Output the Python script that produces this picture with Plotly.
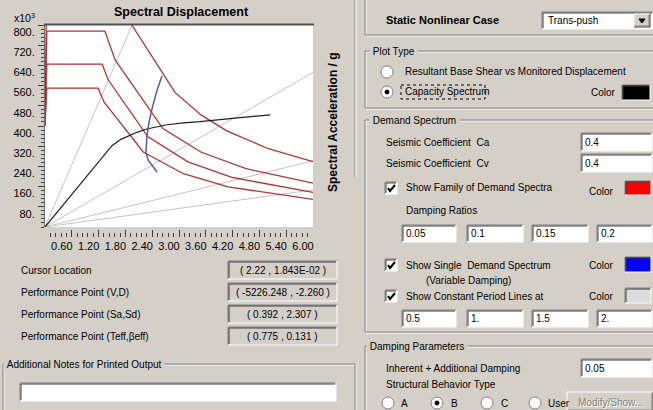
import plotly.graph_objects as go

W, H = 653, 410

# ---------------- data ----------------
# demand spectra (family), x = spectral displacement, y = spectral acceleration (x10^3)
sd_d05 = [0.0, 0.04, 1.55, 1.93, 2.91, 3.50, 4.07, 5.00, 6.00]
sa_d05 = [400, 1000, 1000, 804, 533, 443, 381, 310, 259]
sd_d10 = [0.0, 0.04, 1.34, 1.57, 2.64, 3.50, 4.50, 6.00]
sa_d10 = [400, 776, 776, 662, 390, 296, 231, 174]
sd_d15 = [0.0, 0.04, 1.28, 1.41, 2.30, 3.20, 4.20, 6.00]
sa_d15 = [400, 645, 645, 584, 358, 258, 196, 137]
sd_d20 = [0.0, 0.04, 1.19, 1.32, 2.20, 3.10, 4.10, 6.00]
sa_d20 = [400, 550, 550, 495, 297, 211, 159, 109]

# constant period lines T = 0.5, 1.0, 1.5, 2.0
per_sd = [[0.0, 1.95], [0.0, 6.0], [0.0, 6.0], [0.0, 6.0]]
per_sa = [[0, 800], [0, 612], [0, 262], [0, 147]]

# capacity spectrum
cap_sd = [0.0, 1.50, 1.70, 1.86, 2.06, 2.28, 2.50, 2.73, 3.10, 3.47, 4.20, 5.04]
cap_sa = [0, 322, 347, 360, 375, 388, 397, 405, 412, 417, 430, 444]

# single demand spectrum (variable damping)
var_sd = [2.62, 2.51, 2.40, 2.33, 2.28, 2.26, 2.31, 2.40, 2.51]
var_sa = [598, 543, 471, 416, 356, 293, 265, 242, 218]

x_tickvals = [0.6, 1.2, 1.8, 2.4, 3.0, 3.6, 4.2, 4.8, 5.4, 6.0]
x_ticktext = ["0.60", "1.20", "1.80", "2.40", "3.00", "3.60", "4.20", "4.80", "5.40", "6.00"]
y_tickvals = [80, 160, 240, 320, 400, 480, 560, 640, 720, 800]
y_ticktext = ["80.", "160.", "240.", "320.", "400.", "480.", "560.", "640.", "720.", "800."]

# ---------------- helpers ----------------
BG = "#d4d0c8"
FONT = "Liberation Sans"
shapes = []
annots = []


def PX(x):
    return x / W


def PY(y):
    return 1 - y / H


def text(x, y, s, size=10, color="#000000", bold=False, anchor="left", bg=None, angle=0):
    t = "<b>%s</b>" % s if bold else s
    a = dict(x=PX(x), y=PY(y), xref="paper", yref="paper", text=t, showarrow=False,
             xanchor=anchor, yanchor="middle", textangle=angle, borderpad=0,
             font=dict(family=FONT, size=size, color=color))
    if bg:
        a["bgcolor"] = bg
    annots.append(a)


def line(x0, y0, x1, y1, color, w=1, dash=None):
    ln = dict(color=color, width=w)
    if dash:
        ln["dash"] = dash
    shapes.append(dict(type="line", xref="paper", yref="paper", x0=PX(x0), y0=PY(y0),
                       x1=PX(x1), y1=PY(y1), line=ln, layer="above"))


def rect(x0, y0, x1, y1, fill=None, color=None, w=1, dash=None, layer="above"):
    ln = dict(width=w if color else 0, color=color or "rgba(0,0,0,0)")
    if dash:
        ln["dash"] = dash
    d = dict(type="rect", xref="paper", yref="paper", x0=PX(x0), y0=PY(y0), x1=PX(x1),
             y1=PY(y1), line=ln, layer=layer)
    if fill:
        d["fillcolor"] = fill
    shapes.append(d)


def etched(x0, y0, x1, y1):
    rect(x0 + 1, y0 + 1, x1 + 1, y1 + 1, color="#ffffff")
    rect(x0, y0, x1, y1, color="#808080")


def group(x0, y0, x1, y1, label, lx):
    etched(x0, y0, x1, y1)
    text(lx, y0, "&nbsp;" + label + "&nbsp;", bg=BG)


def sunken(x0, y0, x1, y1, fill="#ffffff"):
    rect(x0, y0, x1, y1, fill=fill)
    line(x0, y0, x1, y0, "#808080")
    line(x0, y0, x0, y1, "#808080")
    line(x0 + 1, y0 + 1, x1 - 1, y0 + 1, "#404040")
    line(x0 + 1, y0 + 1, x0 + 1, y1 - 1, "#404040")
    line(x0, y1, x1, y1, "#ffffff")
    line(x1, y0, x1, y1, "#ffffff")


def raised(x0, y0, x1, y1):
    rect(x0, y0, x1, y1, fill=BG)
    line(x0, y0, x1, y0, "#ffffff")
    line(x0, y0, x0, y1, "#ffffff")
    line(x0, y1, x1, y1, "#404040")
    line(x1, y0, x1, y1, "#404040")
    line(x0 + 1, y1 - 1, x1 - 1, y1 - 1, "#808080")
    line(x1 - 1, y0 + 1, x1 - 1, y1 - 1, "#808080")


def textbox(x0, y0, x1, y1, s, fill="#ffffff", center=False):
    sunken(x0, y0, x1, y1, fill)
    if center:
        text((x0 + x1) / 2, (y0 + y1) / 2, s, anchor="center")
    else:
        text(x0 + 3, (y0 + y1) / 2, s)


def radio(cx, cy, checked=False):
    r = 6
    shapes.append(dict(type="circle", xref="paper", yref="paper", x0=PX(cx - r), y0=PY(cy + r),
                       x1=PX(cx + r), y1=PY(cy - r), fillcolor="#ffffff",
                       line=dict(color="#808080", width=1), layer="above"))
    if checked:
        shapes.append(dict(type="circle", xref="paper", yref="paper", x0=PX(cx - 2), y0=PY(cy + 2),
                           x1=PX(cx + 2), y1=PY(cy - 2), fillcolor="#000000",
                           line=dict(color="#000000", width=1), layer="above"))


def checkbox(x0, y0, checked=True):
    sunken(x0, y0, x0 + 12, y0 + 12)
    if checked:
        p = "M %f %f L %f %f L %f %f" % (PX(x0 + 3), PY(y0 + 6), PX(x0 + 5), PY(y0 + 9),
                                           PX(x0 + 10), PY(y0 + 3))
        shapes.append(dict(type="path", xref="paper", yref="paper", path=p,
                           line=dict(color="#000000", width=2), layer="above"))


def swatch(x0, y0, x1, y1, fill):
    sunken(x0, y0, x1, y1, fill)


# ---------------- figure ----------------
fig = go.Figure()

for xs, ys in zip(per_sd, per_sa):
    fig.add_trace(go.Scatter(x=xs, y=ys, mode="lines", line=dict(color="#c4c4c4", width=1),
                             hoverinfo="skip", showlegend=False))
for xs, ys in [(sd_d05, sa_d05), (sd_d10, sa_d10), (sd_d15, sa_d15), (sd_d20, sa_d20)]:
    fig.add_trace(go.Scatter(x=xs, y=ys, mode="lines", line=dict(color="#b03434", width=1.3),
                             hoverinfo="skip", showlegend=False))
fig.add_trace(go.Scatter(x=cap_sd, y=cap_sa, mode="lines", line=dict(color="#1e1e1e", width=1.2),
                         hoverinfo="skip", showlegend=False))
fig.add_trace(go.Scatter(x=var_sd, y=var_sa, mode="lines", line=dict(color="#5858a8", width=1.5),
                         hoverinfo="skip", showlegend=False))

# ---- left panel decorations ----
text(181, 12, "Spectral Displacement", size=12.5, bold=True, anchor="center")
text(13, 17, "x10<sup>3</sup>", size=10.5)
line(44, 24.5, 314, 24.5, "#505050", w=2)
text(333, 122, "Spectral Acceleration / g", size=12, bold=True, anchor="center", angle=-90)
line(355, 0, 355, 177, "#808080")
line(356, 0, 356, 177, "#ffffff")

rows = [("Cursor Location", 270, "( 2.22 , 1.843E-02 )"),
        ("Performance Point (V,D)", 292, "( -5226.248 , -2.260 )"),
        ("Performance Point (Sa,Sd)", 314, "( 0.392 , 2.307 )"),
        ("Performance Point (Teff,βeff)", 336, "( 0.775 , 0.131 )")]
for lab, yy, val in rows:
    text(20, yy, lab)
    textbox(228, yy - 9, 337, yy + 9, val, fill=BG, center=True)

group(3, 364, 355, 430, "Additional Notes for Printed Output", 3)
sunken(20, 383, 336, 401)

# ---- right panel ----
etched(365, -10, 670, 35)
text(385, 20, "Static Nonlinear Case", size=11, bold=True)
sunken(542, 12, 653, 29)
text(547, 20.5, "Trans-push")
raised(634, 14, 650, 27)
tri = "M %f %f L %f %f L %f %f Z" % (PX(639), PY(19), PX(645), PY(19), PX(642), PY(23))
shapes.append(dict(type="path", xref="paper", yref="paper", path=tri, fillcolor="#000000",
                   line=dict(color="#000000", width=1), layer="above"))

group(365, 51, 670, 108, "Plot Type", 369)
radio(387, 72)
text(404, 72, "Resultant Base Shear vs Monitored Displacement")
radio(387, 92, checked=True)
text(404, 92, "Capacity Spectrum")
rect(401, 85, 485, 99, color="#000000", w=1, dash="dot")
text(590, 93, "Color")
swatch(622, 85, 650, 100, "#000000")

group(365, 120, 670, 332, "Demand Spectrum", 369)
text(385, 142, "Seismic Coefficient&nbsp;&nbsp;Ca")
textbox(581, 133, 652, 151, "0.4")
text(385, 163, "Seismic Coefficient&nbsp;&nbsp;Cv")
textbox(581, 154, 652, 172, "0.4")
checkbox(385, 182)
text(405, 188, "Show Family of Demand Spectra")
text(588, 191, "Color")
swatch(625, 181, 651, 195, "#ff0000")
text(405, 210, "Damping Ratios")
box_x = [(402, 456), (467, 523), (532, 588), (597, 652)]
for (a, b), s in zip(box_x, ["0.05", "0.1", "0.15", "0.2"]):
    textbox(a, 225, b, 242, s)
checkbox(385, 259)
text(405, 265, "Show Single&nbsp;&nbsp;Demand Spectrum")
text(425, 280, "(Variable Damping)")
text(588, 265, "Color")
swatch(625, 257, 651, 272, "#0000ff")
checkbox(385, 290)
text(405, 296, "Show Constant Period Lines at")
text(588, 296, "Color")
swatch(625, 288, 651, 303, "#dcdcdc")
for (a, b), s in zip(box_x, ["0.5", "1.", "1.5", "2."]):
    textbox(a, 310, b, 327, s)

group(365, 346, 670, 430, "Damping Parameters", 366)
text(385, 368, "Inherent + Additional Damping")
textbox(581, 359, 652, 377, "0.05")
text(385, 384, "Structural Behavior Type")
for cx, lab, lx, chk in [(388, "A", 400, False), (437, "B", 450, True),
                         (487, "C", 500, False), (535, "User", 547, False)]:
    radio(cx, 403, chk)
    text(lx, 403, lab)
raised(567, 392, 653, 411)
text(611, 403, "Modify/Show...", color="#ffffff", anchor="center")
text(610, 402, "Modify/Show...", color="#808080", anchor="center")

fig.update_layout(
    width=W, height=H, autosize=False,
    margin=dict(l=0, r=0, t=0, b=0, autoexpand=False),
    paper_bgcolor=BG, plot_bgcolor="#ffffff",
    shapes=shapes, annotations=annots,
    xaxis=dict(domain=[PX(45), PX(313)], range=[0, 6], anchor="free", position=PY(237),
               automargin=False,
               tickvals=x_tickvals, ticktext=x_ticktext, ticks="inside", ticklen=7,
               tickcolor="#404040", tickwidth=1, showgrid=False, zeroline=False, showline=False,
               ticklabelshift=-10, ticklabelstandoff=1,
               tickfont=dict(family=FONT, size=11, color="#000000"),
               minor=dict(dtick=0.12, tick0=0, ticks="inside", ticklen=4, tickcolor="#404040",
                          showgrid=False)),
    yaxis=dict(domain=[PY(227), PY(25)], range=[0, 800], automargin=False,
               tickvals=y_tickvals, ticktext=y_ticktext, ticks="outside", ticklen=6,
               tickcolor="#404040", tickwidth=1, showgrid=False, zeroline=False,
               showline=True, linecolor="#707070", linewidth=1,
               ticklabelshift=7, ticklabelstandoff=1,
               tickfont=dict(family=FONT, size=11, color="#000000"),
               minor=dict(dtick=16, tick0=0, ticks="outside", ticklen=3, tickcolor="#404040",
                          showgrid=False)),
)

fig.write_html("out.html", config={"displayModeBar": False},
               post_script="document.body.style.margin='0px';document.body.style.overflow='hidden';")
